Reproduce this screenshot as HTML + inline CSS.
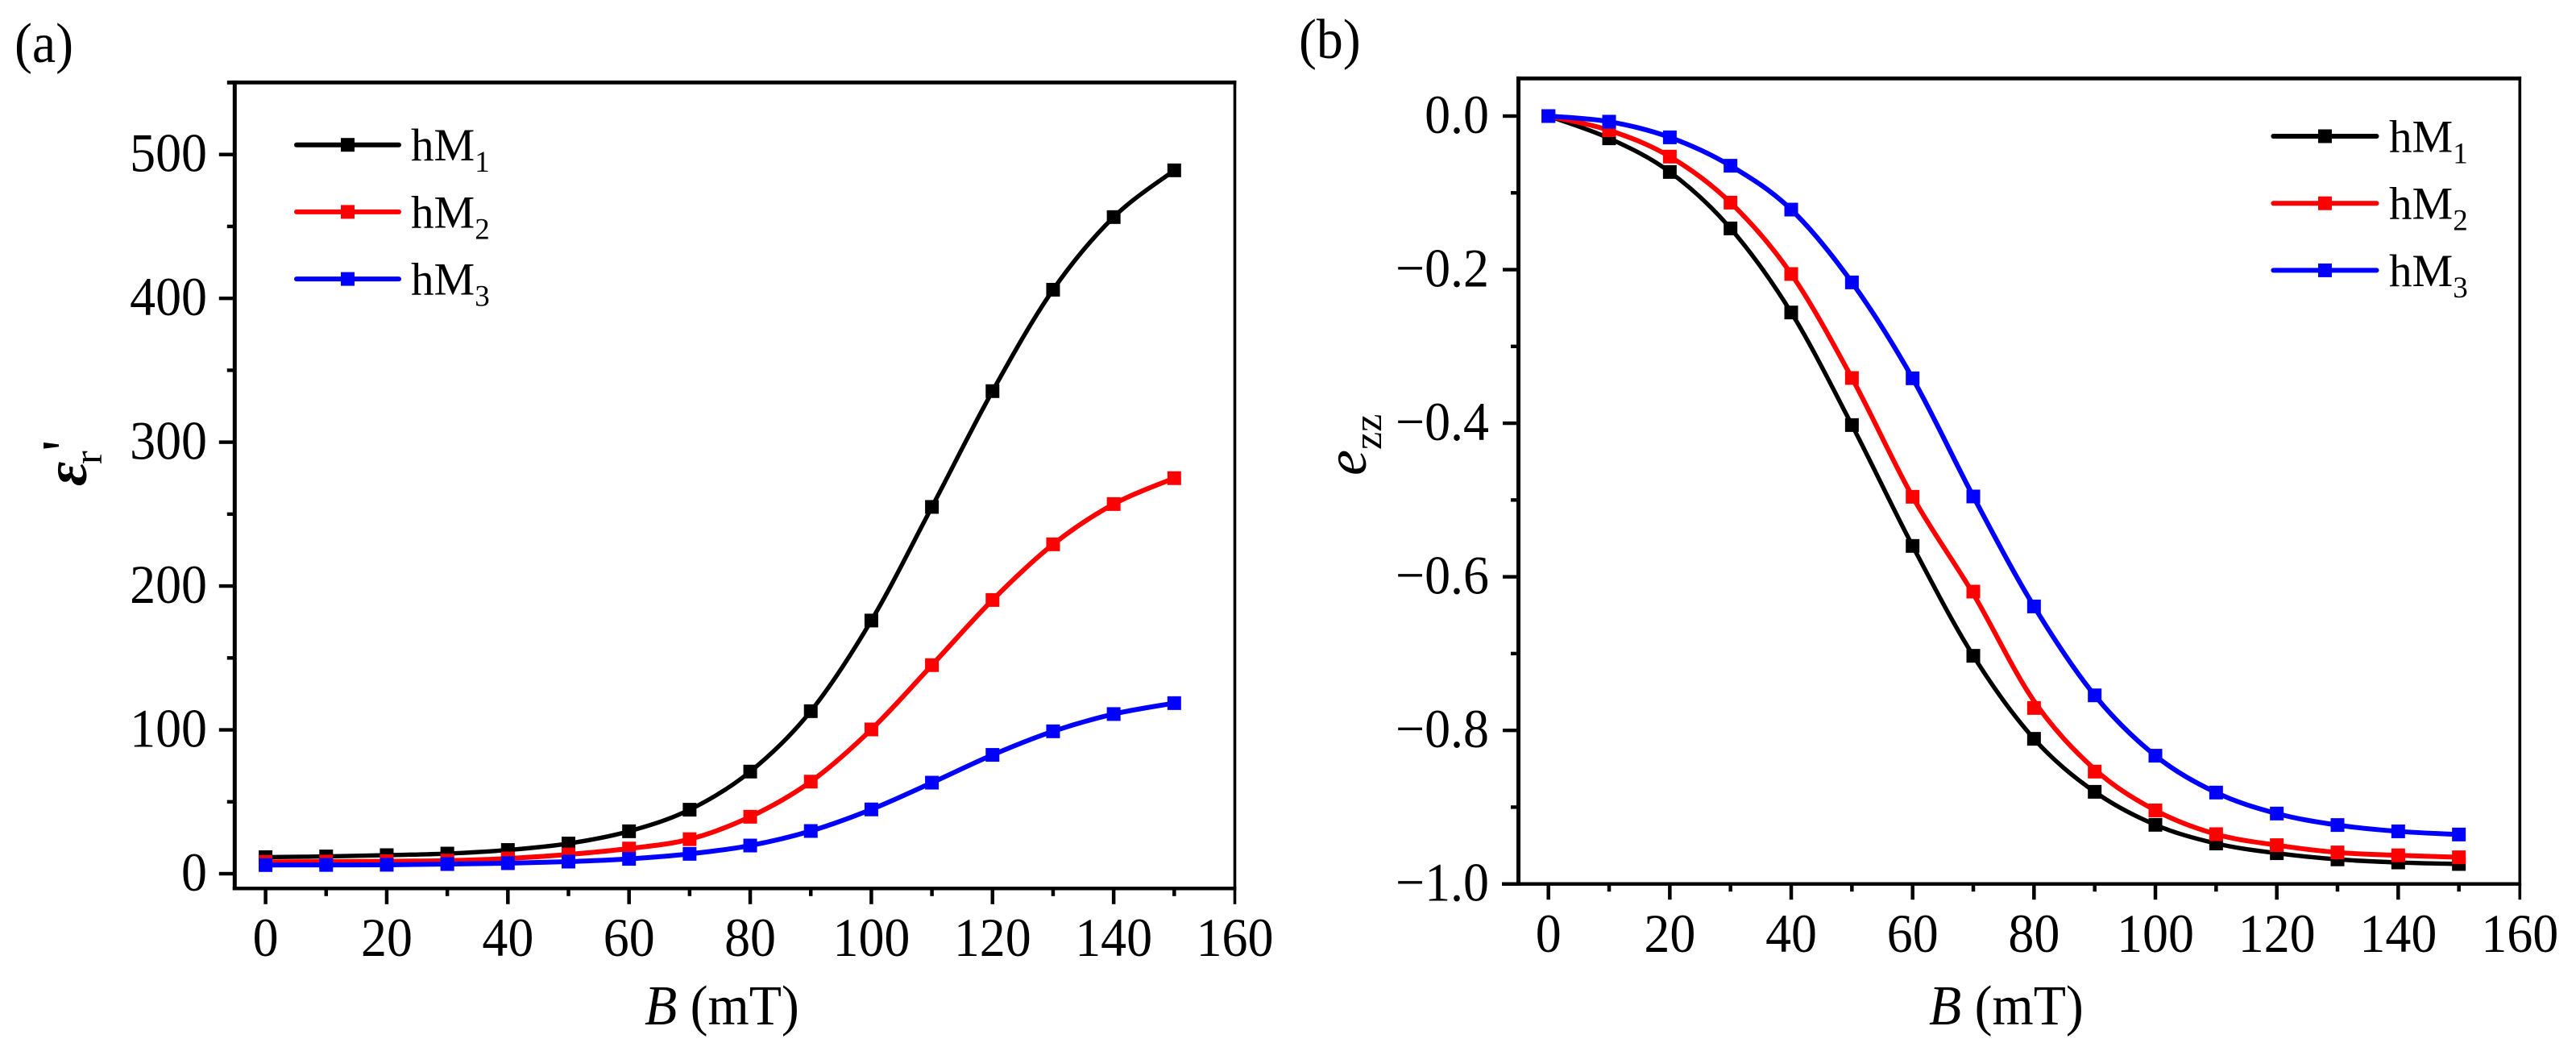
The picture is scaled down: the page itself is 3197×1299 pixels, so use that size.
<!DOCTYPE html>
<html lang="en">
<head>
<meta charset="utf-8">
<title>Dielectric permittivity and strain versus magnetic field</title>
<style>
html,body{margin:0;padding:0;background:#fff;}
svg{display:block;}
text{font-family:"Liberation Serif",serif;fill:#000;}
</style>
</head>
<body>
<svg id="figure" xmlns="http://www.w3.org/2000/svg" width="3197" height="1299" viewBox="0 0 3197 1299">
  <rect x="0" y="0" width="3197" height="1299" fill="#fff"/>
  <text transform="translate(18,77) scale(.94,1)" font-size="70">(a)</text>
  <text transform="translate(1612,72) scale(.94,1)" font-size="70">(b)</text>

  <text transform="translate(800,1271) scale(.94,1)" font-size="70"><tspan font-style="italic">B</tspan> (mT)</text>
  <text transform="translate(2394,1271) scale(.94,1)" font-size="70"><tspan font-style="italic">B</tspan> (mT)</text>

  <g>
    <text transform="translate(107,603) rotate(-90)" font-size="74" font-style="italic" font-weight="bold">ε</text>
    <text transform="translate(126,576) rotate(-90)" font-size="50">r</text>
    <text transform="translate(107,560) rotate(-90)" font-size="80">'</text>
  </g>
  <g>
    <text transform="translate(1695,590) rotate(-90)" font-size="72" font-style="italic">e</text>
    <text transform="translate(1714,558) rotate(-90)" font-size="50">zz</text>
  </g>
  <g id="panel-a"></g>
  <g id="panel-b"></g>
</svg>
<script>
// Shared x categories
const fieldValues = [0,10,20,30,40,50,60,70,80,90,100,110,120,130,140,150];
const seriesNames = ['hM1','hM2','hM3'];
const seriesColors = ['#000000','#ff0000','#0000ff'];

// Panel (a): relative permittivity
const permittivityHM1 = [11.5,12,12.9,14,16.5,21,29.5,44.5,71,113,176,255,335.5,406,456.5,489];
const permittivityHM2 = [8.2,8.4,8.7,9.1,10.6,13.4,17.5,24,39.6,64,100.3,145,190.3,229,257,275];
const permittivityHM3 = [6,6.1,6.2,6.7,7.3,8.4,10.3,13.8,19.6,29.7,44.7,63.3,82.6,99,111,118.6];
const panelAYTicks = [0,100,200,300,400,500];
const panelAYMinorTicks = [50,150,250,350,450,550];
const panelAYTickLabels = ['0','100','200','300','400','500'];

// Panel (b): strain
const strainHM1 = [0,-0.029,-0.0728,-0.1463,-0.2558,-0.4024,-0.5598,-0.7029,-0.811,-0.88,-0.923,-0.9473,-0.96,-0.968,-0.972,-0.974];
const strainHM2 = [0,-0.0185,-0.0528,-0.1127,-0.2057,-0.3411,-0.4958,-0.6193,-0.7708,-0.8537,-0.9042,-0.9352,-0.9495,-0.959,-0.9627,-0.9653];
const strainHM3 = [0,-0.0073,-0.0277,-0.0647,-0.1218,-0.2166,-0.3415,-0.4954,-0.6386,-0.7544,-0.833,-0.881,-0.9083,-0.9233,-0.9315,-0.9356];
// The fitted hM2 curve passes slightly off its markers near 70-90 mT
const strainHM2CurveOffset = [0,0,0,0,0,0,0,-0.003,0.009,0.003,0,0,0,0,0,0];
const noCurveOffset = [0,0,0,0,0,0,0,0,0,0,0,0,0,0,0,0];
const panelBYTicks = [0,-0.2,-0.4,-0.6,-0.8,-1];
const panelBYMinorTicks = [-0.1,-0.3,-0.5,-0.7,-0.9];
const panelBYTickLabels = ['0.0','\u22120.2','\u22120.4','\u22120.6','\u22120.8','\u22121.0'];

// Shared x ticks
const xTicks = [0,20,40,60,80,100,120,140,160];
const xMinorTicks = [10,30,50,70,90,110,130,150];
const xTickLabels = ['0','20','40','60','80','100','120','140','160'];

const SVG_NS = 'http://www.w3.org/2000/svg';

function make(tag, attrs, parent) {
  const el = document.createElementNS(SVG_NS, tag);
  for (const k in attrs) el.setAttribute(k, attrs[k]);
  parent.appendChild(el);
  return el;
}

function linear(d0, d1, r0, r1) {
  return function (v) { return r0 + (v - d0) * (r1 - r0) / (d1 - d0); };
}

function splinePath(points) {
  let d = 'M' + points[0][0].toFixed(2) + ' ' + points[0][1].toFixed(2);
  for (let i = 0; i < points.length - 1; i++) {
    const p0 = points[Math.max(i - 1, 0)];
    const p1 = points[i];
    const p2 = points[i + 1];
    const p3 = points[Math.min(i + 2, points.length - 1)];
    const c1x = p1[0] + (p2[0] - p0[0]) / 6;
    const c1y = p1[1] + (p2[1] - p0[1]) / 6;
    const c2x = p2[0] - (p3[0] - p1[0]) / 6;
    const c2y = p2[1] - (p3[1] - p1[1]) / 6;
    d += 'C' + c1x.toFixed(2) + ' ' + c1y.toFixed(2) + ' ' + c2x.toFixed(2) + ' ' + c2y.toFixed(2) + ' ' + p2[0].toFixed(2) + ' ' + p2[1].toFixed(2);
  }
  return d;
}

function drawPanel(root, cfg, series, offsets, yTicks, yMinor, yLabels) {
  const sx = linear(0, 160, cfg.x0, cfg.x160);
  const sy = linear(cfg.yA, cfg.yB, cfg.pyA, cfg.pyB);

  // frame
  const frame = make('g', {}, root);
  
  
  make('rect', {x: cfg.left - 2.5, y: cfg.top - 2.4, width: 5, height: cfg.bottom - cfg.top + 4.4, fill: '#000'}, frame);
  make('rect', {x: cfg.right - 1.8, y: cfg.top - 2.4, width: 3.6, height: cfg.bottom - cfg.top + 4.4, fill: '#000'}, frame);
  make('rect', {x: cfg.topAxisStart, y: cfg.top - 2.4, width: cfg.right + 1.8 - cfg.topAxisStart, height: 4.8, fill: '#000'}, frame);
  make('rect', {x: cfg.bottomAxisStart, y: cfg.bottom - 2.2, width: cfg.right + 1.8 - cfg.bottomAxisStart, height: 4.4, fill: '#000'}, frame);

  // x axis
  const xAxis = make('g', {}, root);
  
  
  xTicks.forEach(function (t, i) {
    const w = t === 160 ? 3.6 : 4.5;
    const px = t === 160 ? cfg.right : sx(t);
    make('rect', {x: px - w / 2, y: cfg.bottom, width: w, height: 19.5, fill: '#000'}, xAxis);
    const label = make('text', {transform: 'translate(' + px + ',' + cfg.xLabelY + ') scale(.94,1)', 'font-size': 68, 'text-anchor': 'middle'}, xAxis);
    label.textContent = xTickLabels[i];
    
    
  });
  xMinorTicks.forEach(function (t) {
    make('rect', {x: sx(t) - 2.25, y: cfg.bottom, width: 4.5, height: 9.5, fill: '#000'}, xAxis);
  });

  // y axis
  const yAxis = make('g', {}, root);
  
  
  yTicks.forEach(function (t, i) {
    make('rect', {x: cfg.left - 19.5, y: sy(t) - 2.2, width: 19.5, height: 4.4, fill: '#000'}, yAxis);
    const label = make('text', {transform: 'translate(' + cfg.yLabelX + ',' + (sy(t) + 21) + ') scale(.94,1)', 'font-size': 68, 'text-anchor': 'end'}, yAxis);
    label.textContent = yLabels[i];
    
    
  });
  yMinor.forEach(function (t) {
    make('rect', {x: cfg.left - 9.5, y: sy(t) - 2.2, width: 9.5, height: 4.4, fill: '#000'}, yAxis);
  });

  // series
  series.forEach(function (values, s) {
    const group = make('g', {}, root);
    
    
    const pts = values.map(function (v, i) { return [sx(fieldValues[i]), sy(v)]; });
    const curvePts = values.map(function (v, i) { return [sx(fieldValues[i]), sy(v + offsets[s][i])]; });
    make('path', {d: splinePath(curvePts), fill: 'none', stroke: seriesColors[s], 'stroke-width': s === 0 ? 5.4 : 6, 'stroke-linejoin': 'round'}, group);
    pts.forEach(function (p) {
      const m = make('rect', {x: p[0] - 8.5, y: p[1] - 8.5, width: 17, height: 17, fill: seriesColors[s]}, group);
      
      
    });
  });

  // legend
  const legend = make('g', {}, root);
  
  
  seriesNames.forEach(function (name, s) {
    const entry = make('g', {}, legend);
    
    
    const ly = cfg.legendY + s * 83.2;
    make('line', {x1: cfg.legendX1 + 2, x2: cfg.legendX2 - 2, y1: ly, y2: ly, stroke: seriesColors[s], 'stroke-width': 6, 'stroke-linecap': 'round'}, entry);
    make('rect', {x: (cfg.legendX1 + cfg.legendX2) / 2 - 8.5, y: ly - 8.5, width: 17, height: 17, fill: seriesColors[s]}, entry);
    const label = make('text', {x: cfg.legendTextX, y: ly + 19.5, 'font-size': 57}, entry);
    const base = make('tspan', {}, label);
    base.textContent = name.slice(0, 2);
    const sub = make('tspan', {dy: 14, 'font-size': 37}, label);
    sub.textContent = name.slice(2);
  });
}

drawPanel(document.getElementById('panel-a'), {
  x0: 329.6, x160: 1532.5,
  yA: 0, yB: 500, pyA: 1084, pyB: 191.7,
  left: 291.3, right: 1532.5, top: 102.3, bottom: 1102.3,
  topAxisStart: 282, bottomAxisStart: 288.8,
  xLabelY: 1186, yLabelX: 257,
  legendY: 179.7, legendX1: 366, legendX2: 497, legendTextX: 510
}, [permittivityHM1, permittivityHM2, permittivityHM3], [noCurveOffset, noCurveOffset, noCurveOffset], panelAYTicks, panelAYMinorTicks, panelAYTickLabels);

drawPanel(document.getElementById('panel-b'), {
  x0: 1921.7, x160: 3127,
  yA: 0, yB: -1, pyA: 144, pyB: 1096.7,
  left: 1884.5, right: 3127.3, top: 97.3, bottom: 1096.7,
  topAxisStart: 1882, bottomAxisStart: 1864,
  xLabelY: 1181, yLabelX: 1848,
  legendY: 169, legendX1: 2819.4, legendX2: 2951.5, legendTextX: 2965
}, [strainHM1, strainHM2, strainHM3], [noCurveOffset, strainHM2CurveOffset, noCurveOffset], panelBYTicks, panelBYMinorTicks, panelBYTickLabels);
</script>
</body>
</html>
